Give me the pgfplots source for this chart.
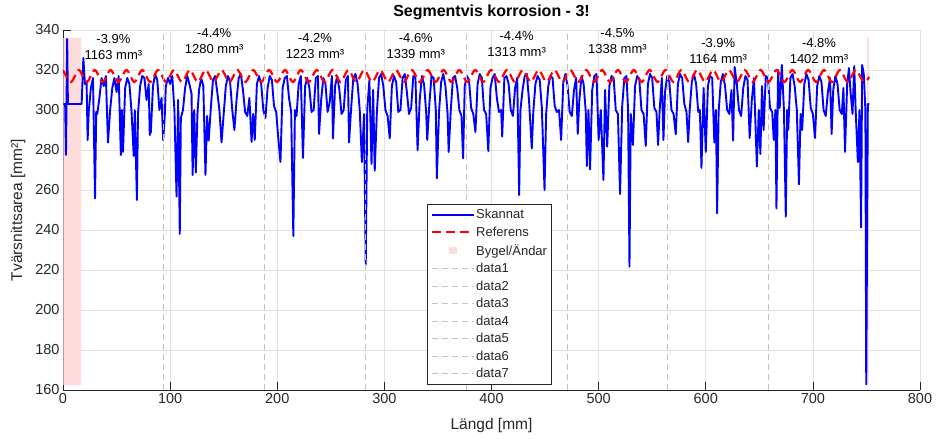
\documentclass[border=0pt]{standalone}
\usepackage{pgfplots}
\pgfplotsset{compat=1.18}
\usepackage{pgfplotstable}
\usepackage{fontspec}
\setmainfont{Liberation Sans}
\definecolor{axcol}{RGB}{38,38,38}
\definecolor{gridc}{RGB}{225,225,225}
\definecolor{pinkc}{RGB}{255,220,220}
\definecolor{segc}{RGB}{195,195,195}

\pgfplotstableread{
x y
0.3 303
2.0 303
2.8 277.5
3.9 335.5
4.6 303
17.4 303
19 326
20.5 313
22 314
23 285
24 299
26 311
28 316
29.9 255.8
31 299
32 298
34 306
36 316
38 312
40 317
42 283.7
44 300
46 311
48 316
50 309
52 317
54 277.5
55 300
56 279
58 311
60 316
62 313
64 299
66 277
67 300
69 255
70 298
72 312
74 317
76 316
78 305
80 313
81 287.5
82 289
84 312
86 318
88 315
90 300
92 306
93.5 285
95 297
96 312
98 316
100 313
102 317
104 300
106 256.7
107.5 305
109 238
110 296
112 300
114 311
116 317
118 313
120 308
121 267.5
122.5 300
124 268.7
125.5 298
127 310
129 316
131 312
133 267.5
134.5 297
136 284.7
138 301
140 315
142 317
144 309
146 300
148 283.8
150 298
152 312
154 317
156 314
158 300
160 290
162 305
164 316
166 318
168 310
170 299
172 297
174 306
176 284
177.5 298
179 285
181 313
183 317
185 313
187 300
189 296
191 311
193 317
195 315
197 302
199 299
201 285.8
203 274
205 311
207 316
209 317
211 306
213 299
215 237
216.5 300
218 297
220 313
222 317
224 276
226 312
228 316
230 311
232 299
234 300
236 316
238 317
239 288
241 305
243 316
245 313
247 299
249 304
251 317
252 285.8
254 312
256 317
258 310
260 298
262 300
264 315
266 317
267 283.8
269 301
271 316
273 318
275 313
277 300
279 274
281 298
282.6 222.5
284 300
286 315
288 273
289.5 310
291 269.7
293 299
295 316
297 318
299 312
301 300
303 297
305 285.8
307 312
309 317
311 314
313 299
315 300
317 316
319 318
321 309
323 298
325 301
327 317
329 316
331 280
333 305
335 317
337 313
339 299
340 285
342 303
344 317
346 316
348 300
349 265.8
351 299
353 314
355 318
357 312
359 298
360 279
362 300
364 316
366 317
368 311
370 300
372 297
373.5 275.8
375 312
377 317
379 315
381 301
383 298
385 289
387 313
389 318
391 316
393 300
395 298
397 279.5
399 311
401 316
403 318
405 306
407 299
409 300
410 286.7
412 316
414 317
416 313
418 300
420 297
422 311
424 316
425.8 257.5
427 300
429 310
431 317
433 318
435 305
437.6 280.8
439 299
441 313
443 317
445 315
447 301
449.5 260
451 298
453 312
455 317
457 316
459 302
461 299
463 300
465 285
467 314
469 318
471 312
473 299
475 297
477 310
479 316
480.5 288
482 305
484 317
486 313
488 299
489 272
490.5 300
492 270.3
494 310
496 317
498 318
500 285
502 300
504.5 265
506 310
508 281.7
510 312
512 317
514 316
516 300
518 298
520 258
522 302
524 316
526 317
527.5 300
528.8 221.7
530 298
532 282.5
534 312
536 317
538 315
540 300
542 298
544 282
546 313
548 318
550 316
552 301
554 299
555.5 282.5
557 300
559 316
560.5 285
562 309
564 317
566 314
568 300
570 298
572 287.8
574 313
576 318
578 316
580 303
582 299
583.6 284
585 300
587 314
589 318
591 313
593 299
594.5 300
596 271
598 311
600 279
602 312
604 317
606 316
608 283.7
609.5 300
610.6 248.3
612 299
614 314
616 318
618 312
620 300
622 298
624 310
625.5 284.7
627 321.5
629 313
631 300
633 297
635 311
637 317
639 315
641 286
643 305
645 316
647.7 271.7
649.5 300
651 278
652.5 312
654 290
656 317
658 316
660 301
662 299
663.5 285
665 300
666 250.8
667.5 320
669 301
671 322.5
673 300
674.7 246.7
676 300
677 290
679 316
681 318
683 312
685 300
687 262.8
688.5 298
690 290
692 313
694 318
696 315
698 301
700 298
702 286
704 312
706 317
708 314
710 300
712 297
714 309
716 316
717.5 288
719 310
721 317
723 313
725 300
727 298
728.5 311
730 279
732 313
733.7 321
735 310
737 298
738.6 322
740 299
742 274
743.5 300
745 241.3
746 322.5
747.5 318
749 300
749.8 162.8
751.3 303
752.8 303
}\scan

\pgfplotstableread{
x y
0 320
7.4 314
14.8 320
22.2 314
29.6 320
37 314
44.4 320
51.8 314
59.2 320
66.6 314
74 320
81.4 314
88.8 320
96.2 314
103.6 320
111 314
118.4 320
125.8 314
133.2 320
140.6 314
148 320
155.4 314
162.8 320
170.2 314
177.6 320
185 314
192.4 320
199.8 314
207.2 320
214.6 314
222 320
229.4 314
236.8 320
244.2 314
251.6 320
259 314
266.4 320
273.8 314
281.2 320
288.6 314
296 320
303.4 314
310.8 320
318.2 314
325.6 320
333 314
340.4 320
347.8 314
355.2 320
362.6 314
370 320
377.4 314
384.8 320
392.2 314
399.6 320
407 314
414.4 320
421.8 314
429.2 320
436.6 314
444 320
451.4 314
458.8 320
466.2 314
473.6 320
481 314
488.4 320
495.8 314
503.2 320
510.6 314
518 320
525.4 314
532.8 320
540.2 314
547.6 320
555 314
562.4 320
569.8 314
577.2 320
584.6 314
592 320
599.4 314
606.8 320
614.2 314
621.6 320
629 314
636.4 320
643.8 314
651.2 320
658.6 314
666 320
673.4 314
680.8 320
688.2 314
695.6 320
703 314
710.4 320
717.8 314
725.2 320
732.6 314
740 320
747.4 314
752.6 316.5
}\refdata

\begin{document}
\begin{tikzpicture}
\begin{axis}[
  name=ax,
  scale only axis,
  width=857pt, height=360pt,
  xmin=0, xmax=800, ymin=160, ymax=340,
  xtick={0,100,...,800}, ytick={160,180,...,340},
  axis x line*=bottom, axis y line*=left,
  axis line style={-, draw=axcol, line width=0.7pt},
  tick align=inside, major tick length=8pt,
  tick style={draw=axcol, line width=0.7pt},
  grid=major, grid style={draw=gridc, line width=0.7pt},
  /pgf/number format/assume math mode=true,
  /pgf/number format/1000 sep={},
  ticklabel style={font=\fontsize{14.5}{16}\selectfont, text=axcol},
  clip mode=individual,
  xlabel={Längd [mm]},
  ylabel={Tvärsnittsarea [mm²]},
  every axis x label/.style={at={(axis description cs:0.5,0)}, anchor=center, yshift=-35pt, font=\fontsize{15.5}{17}\selectfont, text=axcol},
  every axis y label/.style={at={(axis description cs:-0.0525,0.5)}, anchor=center, rotate=90, font=\fontsize{15.5}{17}\selectfont, text=axcol},
  legend image code/.code={\draw[mark repeat=2,mark phase=2,#1] plot coordinates {(0pt,0pt) (21pt,0pt) (42pt,0pt)};},
  legend style={at={(rel axis cs:0.425,0.0167)}, anchor=south west, draw=axcol,
    font=\fontsize{13}{15}\selectfont, row sep=3.4pt, inner xsep=3pt, inner ysep=3pt,
    nodes={inner sep=1.6pt, text=axcol}},
  legend cell align=left,
]
\coordinate (bl) at (rel axis cs:0,0);
\coordinate (tr) at (rel axis cs:1,1);
\addplot[fill=pinkc, draw=none, forget plot] coordinates {(0.3,162.5) (17,162.5) (17,336) (0.3,336) (0.3,162.5)};
\addplot[fill=pinkc, draw=none, forget plot] coordinates {(750.4,162.5) (752.2,162.5) (752.2,336) (750.4,336) (750.4,162.5)};
\addplot[blue, line width=1.9pt, line join=round] table[x=x,y=y] {\scan};
\addlegendentry{Skannat}
\addplot[red, line width=2.2pt, dash pattern=on 9pt off 5pt, smooth] table[x=x,y=y] {\refdata};
\addlegendentry{Referens}
\addlegendimage{only marks, mark=square*, mark size=3.3pt, color=pinkc}
\addlegendentry{Bygel/Ändar}
\addplot[segc, line width=0.8pt, dash pattern=on 6pt off 4pt] coordinates {(94.1,160) (94.1,340)};
\addlegendentry{data1}
\addplot[segc, line width=0.8pt, dash pattern=on 6pt off 4pt] coordinates {(188.2,160) (188.2,340)};
\addlegendentry{data2}
\addplot[segc, line width=0.8pt, dash pattern=on 6pt off 4pt] coordinates {(282.3,160) (282.3,340)};
\addlegendentry{data3}
\addplot[segc, line width=0.8pt, dash pattern=on 6pt off 4pt] coordinates {(376.4,160) (376.4,340)};
\addlegendentry{data4}
\addplot[segc, line width=0.8pt, dash pattern=on 6pt off 4pt] coordinates {(470.5,160) (470.5,340)};
\addlegendentry{data5}
\addplot[segc, line width=0.8pt, dash pattern=on 6pt off 4pt] coordinates {(564.6,160) (564.6,340)};
\addlegendentry{data6}
\addplot[segc, line width=0.8pt, dash pattern=on 6pt off 4pt] coordinates {(658.7,160) (658.7,340)};
\addlegendentry{data7}
\node[font=\bfseries\fontsize{16}{18}\selectfont, text=black, yshift=18pt] at (rel axis cs:0.5,1) {Segmentvis korrosion - 3!};
\begin{scope}[every node/.style={align=center, font=\fontsize{13}{16}\selectfont, text=black}]
\node at (axis cs:47.05,331.6) {-3.9\%\\1163 mm³};
\node at (axis cs:141.15,334.6) {-4.4\%\\1280 mm³};
\node at (axis cs:235.25,332.2) {-4.2\%\\1223 mm³};
\node at (axis cs:329.35,332.2) {-4.6\%\\1339 mm³};
\node at (axis cs:423.45,333.2) {-4.4\%\\1313 mm³};
\node at (axis cs:517.55,334.6) {-4.5\%\\1338 mm³};
\node at (axis cs:611.65,329.3) {-3.9\%\\1164 mm³};
\node at (axis cs:705.75,329.3) {-4.8\%\\1402 mm³};
\end{scope}
\end{axis}
\path[use as bounding box] ([xshift=-63pt,yshift=-48pt]bl) rectangle ([xshift=17pt,yshift=30pt]tr);
\end{tikzpicture}
\end{document}
